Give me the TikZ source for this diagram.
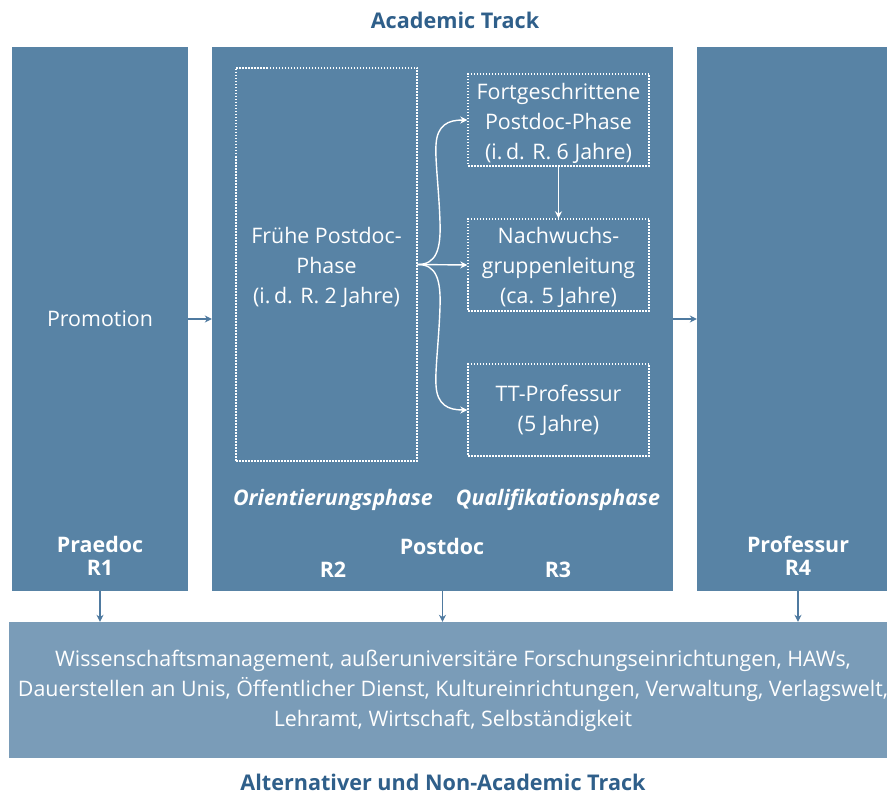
\documentclass[tikz,border=0pt]{standalone}
\usepackage{fontspec}
\setmainfont{Open Sans}
\usetikzlibrary{arrows.meta}
\definecolor{boxblue}{HTML}{5883A5}
\definecolor{lightblue}{HTML}{7A9CB8}
\definecolor{titleblue}{HTML}{2F5F8A}
\definecolor{arrowblue}{HTML}{4F7AA0}
\tikzset{
  bigbox/.style={fill=boxblue, draw=none, minimum height=544pt, inner sep=0pt},
  dotbox/.style={draw=white, line width=1.4pt, dash pattern=on 1.5pt off 1.5pt, minimum width=181pt, inner sep=0pt},
  wtext/.style={text=white, align=center, font=\fontsize{21.4}{30}\selectfont},
  btext/.style={text=white, align=center, font=\bfseries\fontsize{21.4}{23}\selectfont},
  itext/.style={text=white, font=\bfseries\itshape\fontsize{21.4}{23}\selectfont},
  ttext/.style={text=titleblue, inner sep=0pt, font=\bfseries\fontsize{21.6}{24}\selectfont},
  warr/.style={draw=white, line width=1.4pt, -{Stealth[length=7pt,width=7pt]}},
  barr/.style={draw=arrowblue, line width=1.3pt, -{Stealth[length=7pt,width=7pt]}},
}
\begin{document}
\begin{tikzpicture}[x=1pt,y=-1pt]
\useasboundingbox (0,0) rectangle (887,794);
\node[ttext] (title) at (455,20) {Academic Track};
\node[bigbox, minimum width=176pt] (praedoc) at (100,319) {};
\node[bigbox, minimum width=461pt] (postdoc) at (442.5,319) {};
\node[bigbox, minimum width=202pt] (professur) at (798,319) {};
\node[fill=lightblue, minimum width=890pt, minimum height=136pt, inner sep=0pt] (bottom) at (454,690) {};

\node[wtext] (promotion) at (100,319) {Promotion};
\node[btext] (praedoclbl) at (100,556) {Praedoc\\R1};
\node[btext] (professurlbl) at (798,556) {Professur\\R4};
\node[btext] (postdoclbl) at (442,546) {Postdoc};
\node[btext] (rtwo) at (333,570) {R2};
\node[btext] (rthree) at (558,570) {R3};
\node[itext] (orient) at (333,500) {Orientierungsphase};
\node[itext] (quali) at (558,500) {Qualifikationsphase};

\node[dotbox, minimum height=393pt] (frueh) at (326.5,264.5) {};
\node[dotbox, minimum height=92pt] (fort) at (558.5,120) {};
\node[dotbox, minimum height=92pt] (nach) at (558.5,265) {};
\node[dotbox, minimum height=92pt] (tt) at (558.5,410) {};
\node[wtext] (fruehtext) at (326.5,267) {Frühe Postdoc-\\Phase\\(i.\,d. R. 2 Jahre)};
\node[wtext] (forttext) at (558.5,123) {Fortgeschrittene\\Postdoc-Phase\\(i.\,d. R. 6 Jahre)};
\node[wtext] (nachtext) at (558.5,267) {Nachwuchs-\\gruppenleitung\\(ca. 5 Jahre)};
\node[wtext] (tttext) at (558.5,410) {TT-Professur\\(5 Jahre)};

\draw[warr] (frueh.east) .. controls (436,264.5) and (441,250) .. (440,222) .. controls (439,190) and (435,160) .. (436,145) .. controls (437,125) and (448,120) .. (fort.west);
\draw[warr] (frueh.east) -- (nach.west);
\draw[warr] (frueh.east) .. controls (436,264.5) and (441,279) .. (440,307) .. controls (439,339) and (435,370) .. (436,385) .. controls (437,405) and (448,410) .. (tt.west);
\draw[warr] (fort.south) -- (nach.north);

\draw[barr] (praedoc.east) -- (postdoc.west);
\draw[barr] (postdoc.east) -- (professur.west);
\draw[barr] (praedoc.south) -- (praedoc.south |- bottom.north);
\draw[barr] (postdoc.south) -- (postdoc.south |- bottom.north);
\draw[barr] (professur.south) -- (professur.south |- bottom.north);

\node[wtext] (alttext) at (453,691) {Wissenschaftsmanagement, außeruniversitäre Forschungseinrichtungen, HAWs,\\Dauerstellen an Unis, Öffentlicher Dienst, Kultureinrichtungen, Verwaltung, Verlagswelt,\\Lehramt, Wirtschaft, Selbständigkeit};
\node[ttext] (alttitle) at (443,782) {Alternativer und Non-Academic Track};
\end{tikzpicture}
\end{document}
